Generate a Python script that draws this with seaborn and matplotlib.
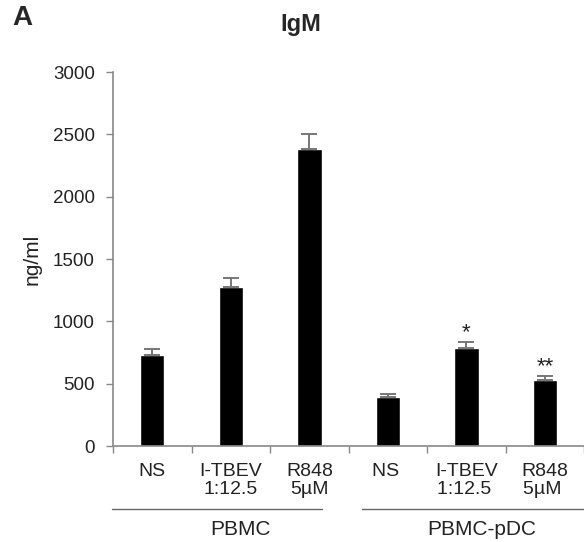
import matplotlib
matplotlib.use("Agg")
import matplotlib.pyplot as plt
import seaborn as sns
import pandas as pd

# values
conditions = ["NS", "I-TBEV\n1:12.5", "R848\n5µM", "NS ", "I-TBEV\n1:12.5 ", "R848\n5µM "]
igm = [730, 1280, 2380, 395, 785, 530]
sem = [45, 70, 125, 25, 50, 35]
stars = ["", "", "", "", "*", "**"]
groups = ["PBMC", "PBMC-pDC"]

df = pd.DataFrame({"cond": conditions, "igm": igm})

sns.set_style("white")
plt.rcParams["font.family"] = ["Liberation Sans", "DejaVu Sans"]

fig = plt.figure(figsize=(5.84, 5.42), dpi=100)
ax = fig.add_axes([0.1935, 0.177, 0.807, 0.690])

sns.barplot(data=df, x="cond", y="igm", color="black", width=0.31,
            errorbar=None, ax=ax, saturation=1)
xs = list(range(len(igm)))
ax.errorbar(xs, igm, yerr=[[0] * len(sem), sem], fmt="none",
            ecolor="#777777", elinewidth=1.4, capsize=6, capthick=1.4)

for x, v, e, s in zip(xs, igm, sem, stars):
    if s:
        ax.text(x, v + e - 10, s, ha="center", va="bottom", fontsize=16,
                color="#222222")

ax.set_ylim(0, 3000)
ax.set_yticks(range(0, 3001, 500))
ax.set_xlim(-0.5, 5.5)

# boundary ticks, labels at bar centres
ax.set_xticks([i - 0.5 for i in range(7)])
ax.set_xticklabels([])
ax.set_xticks(xs, minor=True)
ax.set_xticklabels(conditions, minor=True, fontsize=14, color="#222222",
                   linespacing=1.12)
ax.tick_params(axis="x", which="minor", length=0, pad=12)
ax.tick_params(axis="x", which="major", length=5, width=1, color="#888888",
               direction="out", bottom=True)
ax.tick_params(axis="y", length=5, width=1, color="#888888", direction="out",
               left=True, labelsize=13.5, labelcolor="#222222", pad=8)

for side in ["top", "right"]:
    ax.spines[side].set_visible(False)
for side in ["left", "bottom"]:
    ax.spines[side].set_color("#888888")
    ax.spines[side].set_linewidth(1.2)

ax.set_xlabel("")
ax.set_ylabel("ng/ml", fontsize=15, color="#222222")
ax.yaxis.set_label_coords(-0.152, 0.5)

# group lines under tick labels
tr = ax.get_xaxis_transform()
ax.plot([-0.51, 2.16], [-0.168, -0.168], color="#666666", lw=1,
        transform=tr, clip_on=False)
ax.plot([2.67, 5.5], [-0.168, -0.168], color="#666666", lw=1,
        transform=tr, clip_on=False)
ax.text(1.12, -0.238, groups[0], transform=tr, ha="center", va="baseline",
        fontsize=15, color="#222222")
ax.text(4.2, -0.238, groups[1], transform=tr, ha="center", va="baseline",
        fontsize=15, color="#222222")

fig.text(0.515, 0.955, "IgM", ha="center", va="center", fontsize=17,
         fontweight="bold")
fig.text(0.038, 0.967, "A", ha="center", va="center", fontsize=20,
         fontweight="bold")

fig.savefig("out.png", dpi=100)
